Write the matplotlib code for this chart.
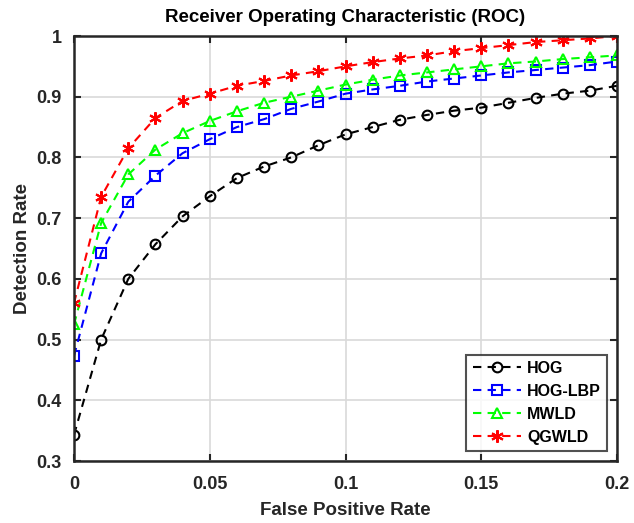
import numpy as np
import matplotlib
matplotlib.use('Agg')
import matplotlib.pyplot as plt

plt.rcParams['font.family'] = ['Liberation Sans', 'DejaVu Sans']
plt.rcParams['font.weight'] = 'bold'

fpr = [0.00, 0.01, 0.02, 0.03, 0.04, 0.05, 0.06, 0.07, 0.08, 0.09, 0.10,
       0.11, 0.12, 0.13, 0.14, 0.15, 0.16, 0.17, 0.18, 0.19, 0.20]

hog = [0.343, 0.500, 0.600, 0.657, 0.703, 0.736, 0.766, 0.785, 0.800, 0.820, 0.838,
       0.850, 0.862, 0.870, 0.877, 0.882, 0.890, 0.898, 0.905, 0.910, 0.918]
hog_lbp = [0.473, 0.642, 0.727, 0.770, 0.807, 0.830, 0.850, 0.863, 0.880, 0.892, 0.905,
           0.912, 0.918, 0.925, 0.930, 0.935, 0.940, 0.944, 0.948, 0.952, 0.958]
mwld = [0.525, 0.692, 0.772, 0.813, 0.840, 0.860, 0.876, 0.890, 0.900, 0.910, 0.920,
        0.928, 0.935, 0.940, 0.945, 0.950, 0.955, 0.958, 0.962, 0.965, 0.968]
qgwld = [0.560, 0.735, 0.815, 0.865, 0.893, 0.905, 0.918, 0.926, 0.935, 0.942, 0.950,
         0.957, 0.963, 0.968, 0.975, 0.980, 0.985, 0.990, 0.993, 0.996, 1.000]

names = ['HOG', 'HOG-LBP', 'MWLD', 'QGWLD']
colors = ['black', 'blue', '#00ff00', 'red']
markers = ['o', 's', '^', (6, 2, 0)]
sizes = [7, 6.5, 7.5, 9]

fig = plt.figure(figsize=(6.34, 5.23), dpi=100)
ax = fig.add_axes([74/634, 1 - 461/523, (617 - 74)/634, (461 - 36)/523])

for vals, name, c, m, ms in zip([hog, hog_lbp, mwld, qgwld], names, colors, markers, sizes):
    ax.plot(fpr, vals, linestyle='--', color=c, marker=m, markersize=ms,
            mfc='none', mec=c, mew=1.5, lw=1.5, dashes=(4, 3), label=name)

ax.set_xlim(0, 0.2)
ax.set_ylim(0.3, 1.0)
ax.set_xticks([0, 0.05, 0.1, 0.15, 0.2])
ax.set_xticklabels(['0', '0.05', '0.1', '0.15', '0.2'])
ax.set_yticks([0.3, 0.4, 0.5, 0.6, 0.7, 0.8, 0.9, 1.0])
ax.set_yticklabels(['0.3', '0.4', '0.5', '0.6', '0.7', '0.8', '0.9', '1'])
ax.tick_params(direction='in', labelsize=13, colors='#262626', length=5, width=1.5,
               top=True, right=True)
ax.tick_params(axis='x', pad=11)
ax.tick_params(axis='y', pad=9)
for lab in ax.get_xticklabels() + ax.get_yticklabels():
    lab.set_fontweight('bold')
    lab.set_color('#262626')
ax.grid(True, color='#d9d9d9', lw=1.2)
ax.set_axisbelow(True)
for s in ax.spines.values():
    s.set_linewidth(1.8)
    s.set_color('#262626')

ax.set_xlabel('False Positive Rate', fontsize=13.5, fontweight='bold', color='#262626',
              labelpad=6)
ax.set_ylabel('Detection Rate', fontsize=13.5, fontweight='bold', color='#262626',
              labelpad=4)
ax.set_title('Receiver Operating Characteristic (ROC)', fontsize=13.5, fontweight='bold',
             pad=10)

leg = ax.legend(loc='lower right', fontsize=11.5, frameon=True, fancybox=False,
                edgecolor='#262626', handlelength=3, borderaxespad=0.6,
                labelspacing=0.5, handletextpad=0.4)
leg.get_frame().set_linewidth(1.5)
for t in leg.get_texts():
    t.set_fontweight('bold')

fig.savefig('out.png', dpi=100)
